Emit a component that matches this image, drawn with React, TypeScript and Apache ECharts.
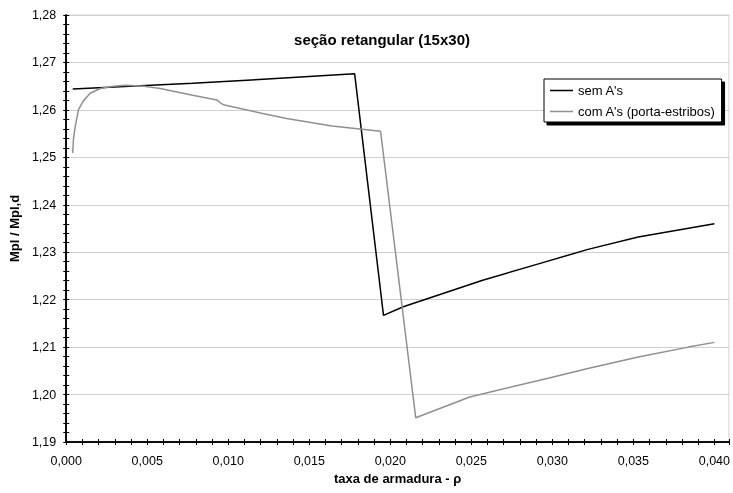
import React, { useEffect, useRef } from "react";
import * as echarts from "echarts";

const titleText = "seção retangular (15x30)";
const xAxisName = "taxa de armadura - ρ";
const yAxisName = "Mpl / Mpl,d";
const seriesNames = ["sem A's", "com A's (porta-estribos)"];

const semX = [0.0004, 0.0078, 0.0119, 0.0178, 0.01958, 0.0208, 0.0257, 0.0292, 0.0322, 0.0353, 0.04];
const semY = [1.2644, 1.2656, 1.2664, 1.2676, 1.2167, 1.2185, 1.2241, 1.2276, 1.2306, 1.2332, 1.236];

const comX = [0.0004, 0.00045, 0.00055, 0.00076, 0.00106, 0.00148, 0.0021, 0.0029, 0.0037, 0.0048, 0.0058, 0.0078, 0.0093, 0.0095, 0.0097, 0.0119, 0.0136, 0.0164, 0.0194, 0.02157, 0.0249, 0.0298, 0.0322, 0.0353, 0.0384, 0.04];
const comY = [1.2509, 1.2540, 1.2564, 1.2601, 1.2619, 1.2635, 1.2645, 1.2650, 1.2652, 1.2650, 1.2645, 1.2631, 1.2621, 1.2615, 1.2611, 1.2594, 1.2582, 1.2566, 1.2555, 1.1951, 1.1995, 1.2035, 1.2055, 1.2079, 1.21, 1.211];

const FONT = "Liberation Sans, Arial, sans-serif";

export default function App() {
  const ref = useRef<HTMLDivElement>(null);
  useEffect(() => {
    const chart = echarts.init(ref.current!, null, { renderer: "svg" });
    const fmtY = (v: number) => v.toFixed(2).replace(".", ",");
    const fmtX = (v: number) => (Math.abs(v / 0.005 - Math.round(v / 0.005)) < 1e-6 ? v.toFixed(3).replace(".", ",") : "");
    const xBase = {
      type: "value",
      min: 0,
      max: 0.0409,
      interval: 0.005,
      position: "bottom",
      axisLine: { show: true, onZero: false, lineStyle: { color: "#000", width: 1.5 } },
      splitLine: { show: false },
    };
    const yBase = {
      type: "value",
      min: 1.19,
      max: 1.28,
      interval: 0.01,
      position: "left",
      axisLine: { show: true, onZero: false, lineStyle: { color: "#000", width: 1.5 } },
    };
    chart.setOption({
      animation: false,
      grid: { left: 66, right: 1, top: 15, bottom: 51, show: true, borderColor: "#d0d0d0", borderWidth: 1 },
      xAxis: [
        {
          ...xBase,
          name: xAxisName,
          nameLocation: "middle",
          nameGap: 29,
          nameTextStyle: { fontFamily: FONT, fontSize: 13, fontWeight: "bold", color: "#000" },
          axisTick: { show: true, inside: false, length: 3, lineStyle: { color: "#000", width: 1 } },
          minorTick: { show: true, splitNumber: 5, length: 3, lineStyle: { color: "#000", width: 1 } },
          axisLabel: { formatter: fmtX, fontFamily: FONT, fontSize: 12.5, color: "#000", margin: 12, showMaxLabel: false },
        },
        {
          ...xBase,
          axisTick: { show: true, inside: true, length: 3, lineStyle: { color: "#000", width: 1 } },
          minorTick: { show: true, splitNumber: 5, length: 3, lineStyle: { color: "#000", width: 1 } },
          axisLabel: { show: false },
        },
      ],
      yAxis: [
        {
          ...yBase,
          name: yAxisName,
          nameLocation: "middle",
          nameGap: 37,
          nameTextStyle: { fontFamily: FONT, fontSize: 13, fontWeight: "bold", color: "#000" },
          axisTick: { show: true, inside: false, length: 3, lineStyle: { color: "#000", width: 1 } },
          minorTick: { show: true, splitNumber: 5, length: 3, lineStyle: { color: "#000", width: 1 } },
          splitLine: { show: true, lineStyle: { color: "#d0d0d0", width: 1 } },
          axisLabel: { formatter: fmtY, fontFamily: FONT, fontSize: 12.5, color: "#000", margin: 10 },
        },
        {
          ...yBase,
          axisTick: { show: true, inside: true, length: 3, lineStyle: { color: "#000", width: 1 } },
          minorTick: { show: true, splitNumber: 5, length: 3, lineStyle: { color: "#000", width: 1 } },
          splitLine: { show: false },
          axisLabel: { show: false },
        },
      ],
      legend: {
        orient: "vertical",
        left: 544,
        top: 79,
        padding: [4, 6, 3, 6],
        icon: "rect",
        itemWidth: 23,
        itemHeight: 1.5,
        itemGap: 6,
        backgroundColor: "#fff",
        borderColor: "#000",
        borderWidth: 1,
        shadowColor: "#000",
        shadowOffsetX: 3,
        shadowOffsetY: 3,
        shadowBlur: 0,
        textStyle: { fontFamily: FONT, fontSize: 13, color: "#000", lineHeight: 15 },
        data: seriesNames,
      },
      graphic: [
        {
          type: "text",
          x: 382,
          y: 39,
          style: {
            text: titleText,
            textAlign: "center",
            textVerticalAlign: "middle",
            fontFamily: FONT,
            fontSize: 15,
            fontWeight: "bold",
            fill: "#000",
          },
        },
      ],
      series: [
        {
          name: seriesNames[0],
          type: "line",
          symbol: "none",
          xAxisIndex: 0,
          yAxisIndex: 0,
          lineStyle: { color: "#000", width: 1.5 },
          itemStyle: { color: "#000" },
          data: semX.map((x, i) => [x, semY[i]]),
        },
        {
          name: seriesNames[1],
          type: "line",
          symbol: "none",
          xAxisIndex: 0,
          yAxisIndex: 0,
          lineStyle: { color: "#909090", width: 1.5 },
          itemStyle: { color: "#909090" },
          data: comX.map((x, i) => [x, comY[i]]),
        },
      ],
    });
    return () => chart.dispose();
  }, []);
  return <div ref={ref} style={{ position: "fixed", left: 0, top: 0, width: 733, height: 493 }} />;
}
